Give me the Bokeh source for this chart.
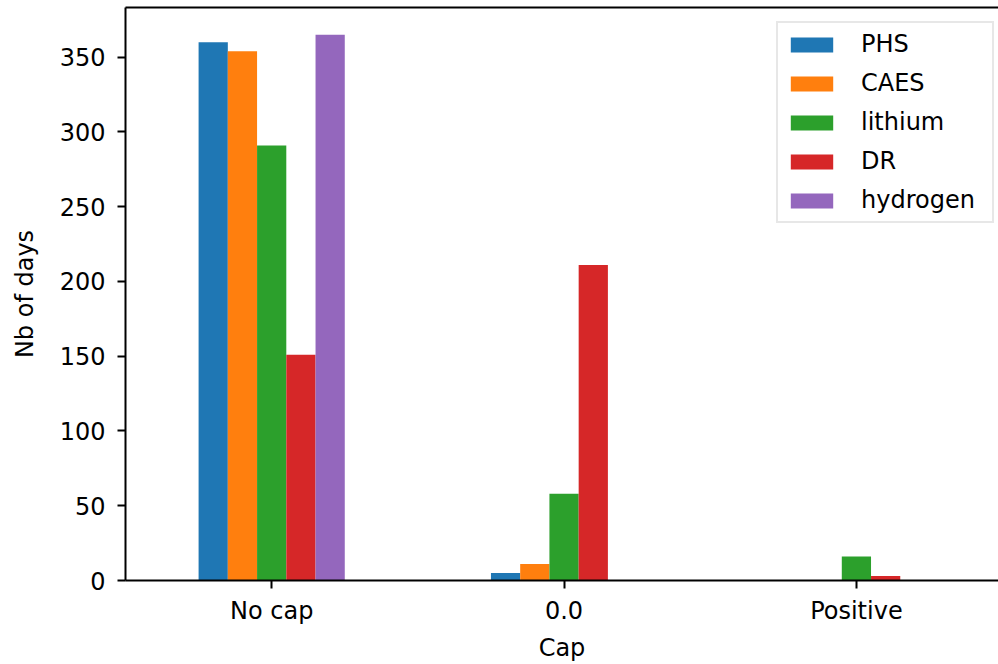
from bokeh.plotting import figure
from bokeh.models import ColumnDataSource, Range1d, LinearAxis, FixedTicker, Legend, LegendItem
from bokeh.transform import dodge
from bokeh.embed import file_html
from bokeh.resources import INLINE

categories = ["No cap", "0.0", "Positive"]
series_names = ["PHS", "CAES", "lithium", "DR", "hydrogen"]
PHS = [360, 5, 0]
CAES = [354, 11, 0]
lithium = [291, 58, 16]
DR = [151, 211, 3]
hydrogen = [365, 0, 0]
colors = ["#1f77b4", "#ff7f0e", "#2ca02c", "#d62728", "#9467bd"]
y_ticks = [0, 50, 100, 150, 200, 250, 300, 350]

FONT = "DejaVu Sans"
FS = "24px"

source = ColumnDataSource(data=dict(
    x=list(range(len(categories))),
    PHS=PHS, CAES=CAES, lithium=lithium, DR=DR, hydrogen=hydrogen,
))

p = figure(
    width=998, height=664,
    x_range=Range1d(-0.5, 2.486), y_range=Range1d(0, 383.25),
    output_backend="svg", toolbar_location=None,
    min_border_left=125, min_border_right=0, min_border_top=7, min_border_bottom=84,
    background_fill_color="white", border_fill_color="white",
)
p.outline_line_color = None
p.xgrid.visible = False
p.ygrid.visible = False

bar_w = 0.1
items = []
n = len(series_names)
for j, name in enumerate(series_names):
    off = (j - (n - 1) / 2) * bar_w
    r = p.vbar(x=dodge("x", off), top=name, width=bar_w, source=source,
               fill_color=colors[j], line_color=None)
    items.append(LegendItem(label=name, renderers=[r]))

# axes styling
for ax in (p.xaxis[0], p.yaxis[0]):
    ax.axis_line_width = 2
    ax.axis_line_color = "black"
    ax.major_tick_line_width = 2
    ax.major_tick_line_color = "black"
    ax.major_tick_out = 8
    ax.major_tick_in = 0
    ax.minor_tick_line_color = None
    ax.major_label_text_font = FONT
    ax.major_label_text_font_size = FS
    ax.major_label_text_color = "black"
    ax.axis_label_text_font = FONT
    ax.axis_label_text_font_size = FS
    ax.axis_label_text_font_style = "normal"
    ax.axis_label_text_color = "black"

p.xaxis[0].ticker = FixedTicker(ticks=list(range(len(categories))))
p.xaxis[0].major_label_overrides = {i: c for i, c in enumerate(categories)}
p.xaxis[0].axis_label = "Cap"
p.xaxis[0].major_label_standoff = 8
p.xaxis[0].axis_label_standoff = 6

p.yaxis[0].ticker = FixedTicker(ticks=y_ticks)
p.yaxis[0].axis_label = "Nb of days"
p.yaxis[0].major_label_standoff = 12
p.yaxis[0].axis_label_standoff = 18

# top spine only (right side is cropped in the reference)
top = LinearAxis(ticker=FixedTicker(ticks=[]), axis_line_width=2, axis_line_color="black",
                 major_tick_line_color=None, minor_tick_line_color=None,
                 major_label_text_color=None, major_tick_out=0, major_tick_in=0,
                 major_label_standoff=0, axis_label_standoff=0)
p.add_layout(top, "above")

legend = Legend(items=items, location=(651, 357))
legend.label_text_font = FONT
legend.label_text_font_size = FS
legend.label_text_color = "black"
legend.glyph_width = 53
legend.glyph_height = 19
legend.label_standoff = 23
legend.label_width = 124
legend.padding = 7
legend.spacing = 11
legend.margin = 0
legend.border_line_color = "#d0d0d0"
legend.border_line_width = 2
legend.background_fill_color = "white"
legend.background_fill_alpha = 0.8
p.add_layout(legend)

open("out.html", "w").write(file_html(p, INLINE))
